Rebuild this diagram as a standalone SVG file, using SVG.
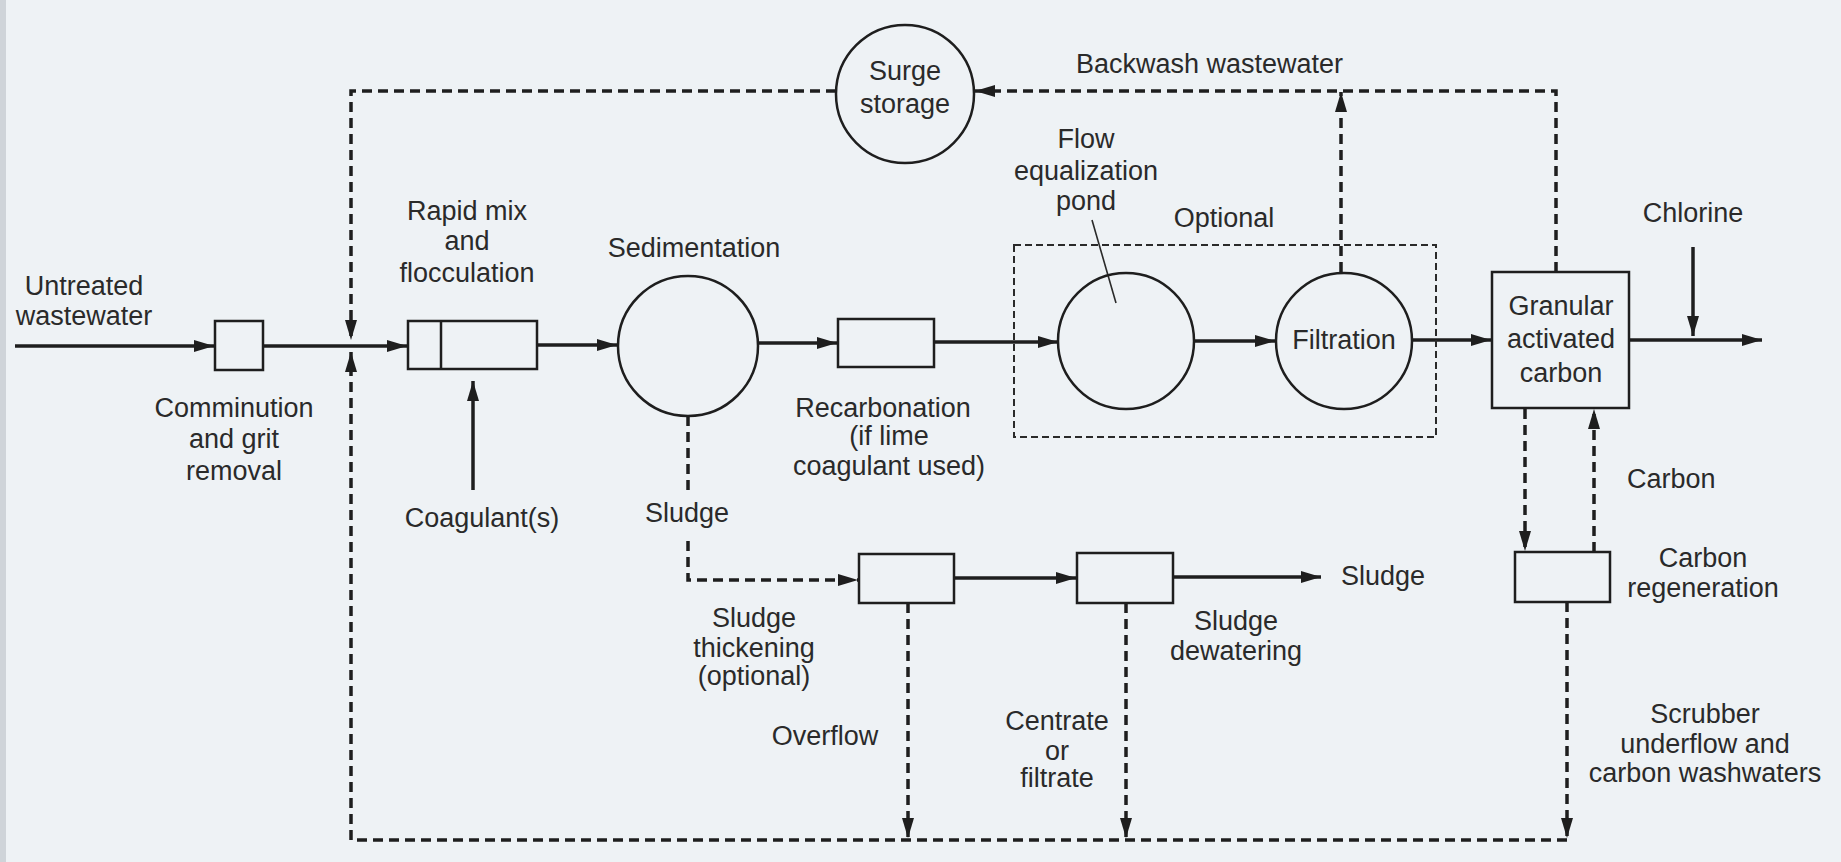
<svg xmlns="http://www.w3.org/2000/svg" width="1841" height="862" viewBox="0 0 1841 862">
<defs>
<marker id="ah" markerUnits="userSpaceOnUse" markerWidth="20" markerHeight="12" refX="20" refY="6" orient="auto">
<path d="M0,0 L20,6 L0,12 z" fill="#1e1e1e"/>
</marker>
<style>
.t{font-family:"Liberation Sans",Arial,Helvetica,sans-serif;font-size:27px;fill:#2a2a2a;text-anchor:middle}
.s{text-anchor:start}
.box{fill:none;stroke:#1e1e1e;stroke-width:2.5}
.sol{fill:none;stroke:#1e1e1e;stroke-width:3.5}
.dsh{fill:none;stroke:#1e1e1e;stroke-width:3.5;stroke-dasharray:10 6}
.opt{fill:none;stroke:#2a2a2a;stroke-width:2;stroke-dasharray:7 4}
.arr{marker-end:url(#ah)}
</style>
</defs>
<rect x="0" y="0" width="1841" height="862" fill="#eef2f5"/>
<rect x="0" y="0" width="6" height="862" fill="#cfd4d9"/>

<g id="connectors">
<line class="sol arr" x1="15" y1="346" x2="214" y2="346"/>
<line class="sol arr" x1="263" y1="346" x2="407" y2="346"/>
<line class="sol arr" x1="537" y1="345" x2="617" y2="345"/>
<line class="sol arr" x1="758" y1="343" x2="837" y2="343"/>
<line class="sol arr" x1="934" y1="342" x2="1058" y2="342"/>
<line class="sol arr" x1="1194" y1="341" x2="1275" y2="341"/>
<line class="sol arr" x1="1413" y1="340" x2="1491" y2="340"/>
<line class="sol arr" x1="1629" y1="340" x2="1762" y2="340"/>
<line class="sol arr" x1="1693" y1="247" x2="1693" y2="336"/>
<line class="sol arr" x1="473" y1="490" x2="473" y2="381"/>
<line class="sol arr" x1="954" y1="578" x2="1076" y2="578"/>
<line class="sol arr" x1="1173" y1="577" x2="1321" y2="577"/>
<path class="dsh arr" d="M836,91 H351 V340"/>
<path class="dsh arr" d="M1567,840 H351 V352"/>
<path class="dsh arr" d="M1556,272 V91 H975"/>
<path class="dsh arr" d="M1341,272 V92"/>
<path class="dsh" d="M688,416 V495"/>
<path class="dsh arr" d="M688,541 V580 H858"/>
<path class="dsh arr" d="M908,603 V838"/>
<path class="dsh arr" d="M1126,603 V838"/>
<path class="dsh arr" d="M1525,409 V551"/>
<path class="dsh arr" d="M1594,552 V409"/>
<path class="dsh arr" d="M1567,602 V838"/>
<line x1="1092" y1="220" x2="1116" y2="303" stroke="#2a2a2a" stroke-width="1.6"/>
</g>

<g id="optional-box">
<rect class="opt" x="1014" y="245" width="422" height="192"/>
<text class="t" x="1224" y="227">Optional</text>
</g>

<g id="input">
<text class="t" x="84" y="295">Untreated</text>
<text class="t" x="84" y="325">wastewater</text>
</g>

<g id="comminution">
<rect class="box" x="215" y="321" width="48" height="49"/>
<text class="t" x="234" y="417">Comminution</text>
<text class="t" x="234" y="448">and grit</text>
<text class="t" x="234" y="480">removal</text>
</g>

<g id="rapid-mix">
<rect class="box" x="408" y="321" width="129" height="48"/>
<line x1="441" y1="321" x2="441" y2="369" stroke="#1e1e1e" stroke-width="2.5"/>
<text class="t" x="467" y="220">Rapid mix</text>
<text class="t" x="467" y="250">and</text>
<text class="t" x="467" y="282">flocculation</text>
</g>

<g id="coagulant">
<text class="t" x="482" y="527">Coagulant(s)</text>
</g>

<g id="sedimentation">
<circle class="box" cx="688" cy="346" r="70"/>
<text class="t" x="694" y="257">Sedimentation</text>
</g>

<g id="surge-storage">
<circle class="box" cx="905" cy="94" r="69"/>
<text class="t" x="905" y="80">Surge</text>
<text class="t" x="905" y="113">storage</text>
</g>

<g id="backwash">
<text class="t s" x="1076" y="73">Backwash wastewater</text>
</g>

<g id="recarbonation">
<rect class="box" x="838" y="319" width="96" height="48"/>
<text class="t" x="883" y="417">Recarbonation</text>
<text class="t" x="889" y="445">(if lime</text>
<text class="t" x="889" y="475">coagulant used)</text>
</g>

<g id="flow-equalization">
<circle class="box" cx="1126" cy="341" r="68"/>
<text class="t" x="1086" y="148">Flow</text>
<text class="t" x="1086" y="180">equalization</text>
<text class="t" x="1086" y="210">pond</text>
</g>

<g id="filtration">
<circle class="box" cx="1344" cy="341" r="68"/>
<text class="t" x="1344" y="349">Filtration</text>
</g>

<g id="gac">
<rect class="box" x="1492" y="272" width="137" height="136"/>
<text class="t" x="1561" y="315">Granular</text>
<text class="t" x="1561" y="348">activated</text>
<text class="t" x="1561" y="382">carbon</text>
</g>

<g id="chlorine">
<text class="t" x="1693" y="222">Chlorine</text>
</g>

<g id="sludge-label">
<text class="t" x="687" y="522">Sludge</text>
</g>

<g id="thickening">
<rect class="box" x="859" y="554" width="95" height="49"/>
<text class="t" x="754" y="627">Sludge</text>
<text class="t" x="754" y="657">thickening</text>
<text class="t" x="754" y="685">(optional)</text>
<text class="t" x="825" y="745">Overflow</text>
</g>

<g id="dewatering">
<rect class="box" x="1077" y="553" width="96" height="50"/>
<text class="t" x="1236" y="630">Sludge</text>
<text class="t" x="1236" y="660">dewatering</text>
<text class="t" x="1057" y="730">Centrate</text>
<text class="t" x="1057" y="760">or</text>
<text class="t" x="1057" y="787">filtrate</text>
</g>

<g id="sludge-out">
<text class="t s" x="1341" y="585">Sludge</text>
</g>

<g id="carbon-regeneration">
<rect class="box" x="1515" y="552" width="95" height="50"/>
<text class="t s" x="1627" y="488">Carbon</text>
<text class="t" x="1703" y="567">Carbon</text>
<text class="t" x="1703" y="597">regeneration</text>
<text class="t" x="1705" y="723">Scrubber</text>
<text class="t" x="1705" y="753">underflow and</text>
<text class="t" x="1705" y="782">carbon washwaters</text>
</g>
</svg>
